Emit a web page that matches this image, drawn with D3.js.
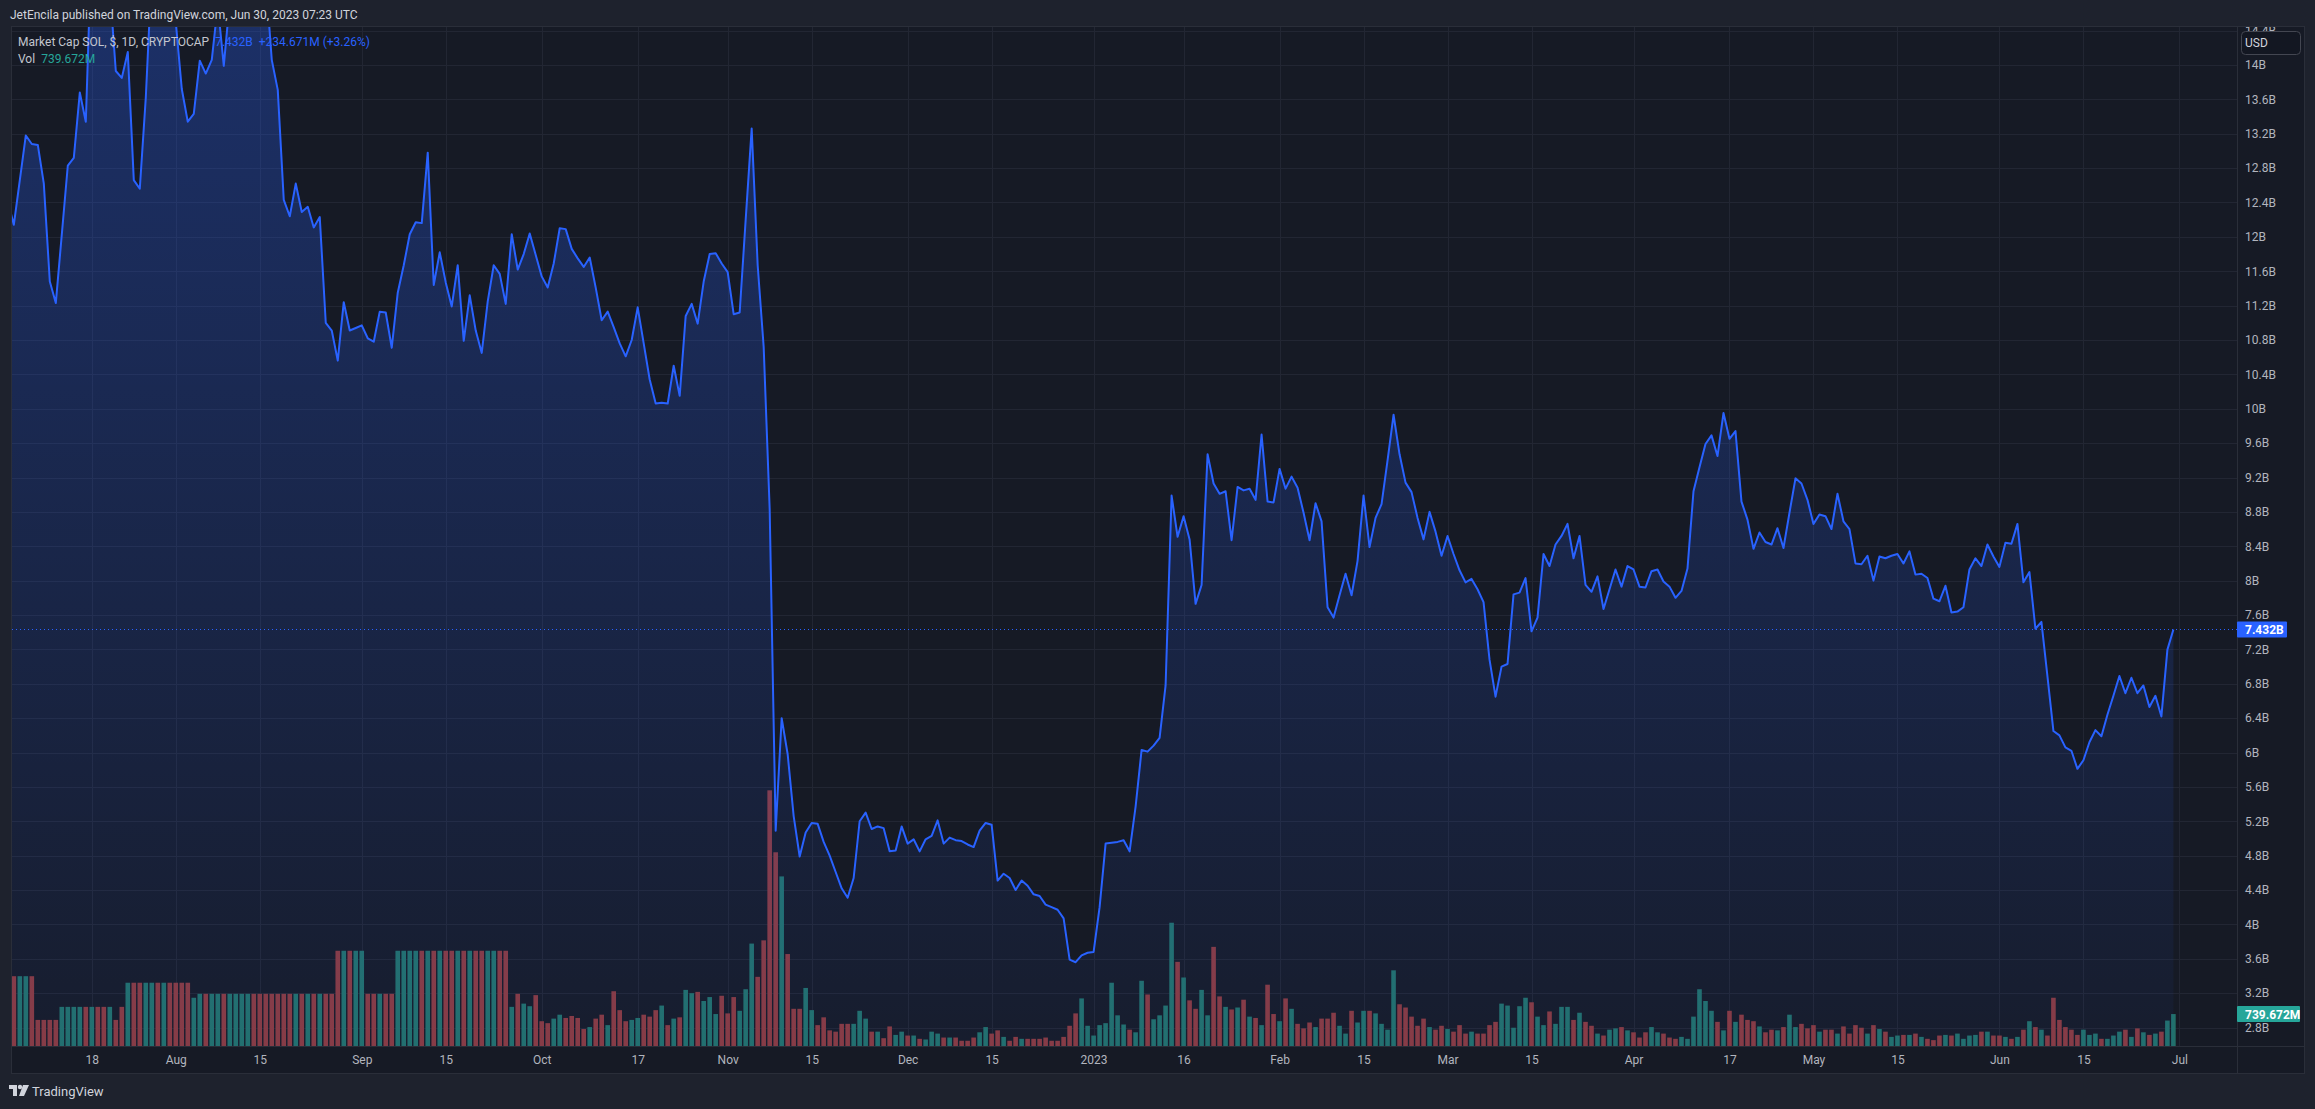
<!DOCTYPE html>
<html>
<head>
<meta charset="utf-8">
<script src="https://cdn.jsdelivr.net/npm/d3@7"></script>
<style>
    html, body { margin: 0; padding: 0; background: #1e222d; }
    svg { display: block; font-family: Roboto, 'Noto Sans', sans-serif; }
</style>
</head>
<body>
<div id="chart"></div>
<script>
// daily series, first value is 2022-07-04
const firstDay = '2022-07-04';

// market cap in billions USD
const marketCap = [
    // Jul 4 - Jul 31
    12.41, 12.14, 12.66, 13.18, 13.08, 13.07, 12.62, 11.48, 11.23, 12.03, 12.83, 12.92, 13.68, 13.34,
    15.5, 15.3, 14.8, 14.9, 13.93, 13.85, 14.15, 12.66, 12.56, 13.62, 15.1, 15.0, 15.4, 15.0,
    // Aug
    14.5, 13.72, 13.34, 13.43, 14.05, 13.9, 14.06, 14.7, 13.99, 14.75, 15.2, 15.5, 16.0, 15.7, 15.3, 15.0,
    14.06, 13.71, 12.43, 12.24, 12.62, 12.29, 12.35, 12.11, 12.23, 11.0, 10.91, 10.56, 11.24, 10.91, 10.94,
    // Sep
    10.97, 10.82, 10.78, 11.13, 11.12, 10.71, 11.35, 11.67, 12.03, 12.17, 12.16, 12.98, 11.44, 11.82, 11.47,
    11.19, 11.67, 10.79, 11.32, 10.91, 10.65, 11.25, 11.67, 11.57, 11.22, 12.03, 11.62, 11.8, 12.04, 11.79,
    // Oct
    11.54, 11.41, 11.69, 12.1, 12.09, 11.86, 11.75, 11.65, 11.76, 11.41, 11.03, 11.13, 10.95, 10.76, 10.61, 10.8,
    11.18, 10.76, 10.34, 10.06, 10.07, 10.06, 10.5, 10.15, 11.08, 11.22, 10.99, 11.48, 11.8, 11.81, 11.69,
    // Nov
    11.59, 11.1, 11.12, 12.2, 13.26, 11.67, 10.72, 8.83, 5.09, 6.4, 5.98, 5.26, 4.79, 5.07, 5.18,
    5.17, 4.96, 4.8, 4.61, 4.42, 4.31, 4.54, 5.2, 5.3, 5.11, 5.14, 5.12, 4.85, 4.86, 5.14,
    // Dec
    4.94, 4.99, 4.85, 4.99, 5.03, 5.21, 4.94, 5.01, 4.98, 4.97, 4.93, 4.9, 5.09, 5.18, 5.16, 4.51,
    4.59, 4.54, 4.4, 4.51, 4.45, 4.35, 4.33, 4.23, 4.2, 4.17, 4.07, 3.59, 3.56, 3.64, 3.67,
    // Jan 2023
    3.68, 4.2, 4.94, 4.95, 4.96, 4.98, 4.85, 5.37, 6.03, 6.01, 6.08, 6.17, 6.78, 8.99, 8.51, 8.75,
    8.48, 7.73, 7.95, 9.47, 9.13, 9.01, 9.04, 8.47, 9.09, 9.05, 9.07, 8.94, 9.7, 8.92, 8.91,
    // Feb
    9.3, 9.07, 9.21, 9.08, 8.79, 8.47, 8.9, 8.69, 7.69, 7.57, 7.83, 8.08, 7.83, 8.23,
    8.99, 8.39, 8.73, 8.89, 9.4, 9.93, 9.47, 9.14, 9.03, 8.73, 8.48, 8.8, 8.57, 8.29,
    // Mar
    8.52, 8.31, 8.12, 7.98, 8.02, 7.9, 7.75, 7.08, 6.65, 7.0, 7.03, 7.84, 7.86, 8.03, 7.41, 7.57,
    8.31, 8.17, 8.42, 8.52, 8.66, 8.26, 8.52, 7.95, 7.87, 8.05, 7.67, 7.9, 8.13, 7.93, 8.17,
    // Apr
    8.13, 7.93, 7.92, 8.11, 8.13, 7.99, 7.93, 7.8, 7.88, 8.14, 9.04, 9.32, 9.59, 9.69, 9.45,
    9.95, 9.65, 9.74, 8.92, 8.71, 8.37, 8.56, 8.45, 8.42, 8.61, 8.38, 8.79, 9.19, 9.13, 8.94,
    // May
    8.66, 8.77, 8.75, 8.6, 9.01, 8.69, 8.6, 8.2, 8.19, 8.29, 8.0, 8.28, 8.26, 8.29, 8.31, 8.2,
    8.34, 8.07, 8.08, 8.03, 7.79, 7.76, 7.94, 7.63, 7.64, 7.69, 8.13, 8.26, 8.17, 8.42, 8.28,
    // Jun
    8.16, 8.44, 8.43, 8.66, 7.98, 8.1, 7.44, 7.52, 6.89, 6.25, 6.2, 6.06, 6.02, 5.81, 5.91,
    6.12, 6.26, 6.19, 6.44, 6.66, 6.89, 6.69, 6.87, 6.69, 6.78, 6.53, 6.66, 6.42, 7.197, 7.432
];

// volume in millions USD
const volume = [
    // Jul 4 - Jul 31
    1616, 1616, 1616, 1616, 1616, 604, 604, 604, 604, 906, 906, 906, 906, 906,
    906, 906, 906, 906, 604, 906, 1465, 1465, 1465, 1465, 1465, 1465, 1465, 1465,
    // Aug
    1465, 1465, 1465, 1117, 1208, 1208, 1208, 1208, 1208, 1208, 1208, 1208, 1208, 1208, 1208, 1208,
    1208, 1208, 1208, 1208, 1208, 1208, 1208, 1208, 1208, 1208, 1208, 2205, 2205, 2205, 2205,
    // Sep
    2205, 1208, 1208, 1208, 1208, 1208, 2205, 2205, 2205, 2205, 2205, 2205, 2205, 2205, 2205,
    2205, 2205, 2205, 2205, 2205, 2205, 2205, 2205, 2205, 2205, 906, 1208, 981, 921, 1178,
    // Oct
    574, 529, 634, 725, 649, 695, 649, 393, 438, 634, 725, 483, 1268, 830, 574, 604,
    649, 725, 680, 830, 936, 483, 634, 664, 1299, 1223, 1253, 1042, 1133, 740, 1163,
    // Nov
    755, 1133, 815, 1314, 2371, 1601, 2446, 5919, 4485, 3926, 2129, 861, 861, 1344, 831,
    483, 664, 362, 332, 513, 513, 513, 815, 634, 332, 332, 181, 453, 257, 332,
    // Dec
    242, 242, 166, 151, 332, 287, 196, 196, 196, 121, 121, 196, 317, 438, 287, 362,
    211, 121, 211, 166, 166, 166, 166, 196, 121, 121, 211, 468, 755, 1102, 468,
    // Jan 2023
    242, 483, 529, 1465, 710, 498, 378, 317, 1510, 1193, 619, 710, 936, 2854, 1948, 1586,
    1057, 861, 1299, 710, 2295, 1148, 906, 846, 891, 1072, 680, 649, 483, 1419, 740,
    // Feb
    574, 1102, 861, 513, 408, 544, 438, 634, 634, 770, 468, 287, 815, 544,
    815, 815, 755, 513, 378, 1752, 966, 891, 680, 468, 634, 438, 378, 468,
    // Mar
    393, 332, 483, 287, 332, 287, 287, 483, 559, 981, 936, 423, 921, 1117, 1012, 680,
    483, 800, 513, 906, 906, 604, 770, 559, 468, 287, 242, 378, 408, 438, 362,
    // Apr
    317, 196, 317, 438, 317, 287, 196, 166, 211, 166, 680, 1314, 1042, 815, 559,
    362, 815, 559, 725, 604, 574, 453, 317, 378, 362, 438, 725, 438, 513, 408,
    // May
    483, 332, 378, 378, 287, 453, 287, 483, 423, 287, 483, 393, 332, 211, 242, 257,
    257, 287, 211, 166, 136, 242, 257, 242, 287, 166, 242, 257, 332, 332, 242,
    // Jun
    242, 211, 166, 211, 378, 574, 438, 378, 242, 1117, 604, 438, 378, 257, 378,
    257, 287, 166, 166, 242, 332, 378, 211, 408, 317, 257, 287, 332, 589, 739.672
];

const timeTicks = [
    '2022-07-18', '2022-08-01', '2022-08-15', '2022-09-01', '2022-09-15', '2022-10-01', '2022-10-17',
    '2022-11-01', '2022-11-15', '2022-12-01', '2022-12-15', '2023-01-01', '2023-01-16', '2023-02-01',
    '2023-02-15', '2023-03-01', '2023-03-15', '2023-04-01', '2023-04-17', '2023-05-01', '2023-05-15',
    '2023-06-01', '2023-06-15', '2023-07-01'
];
const timeTickLabels = [
    '18', 'Aug', '15', 'Sep', '15', 'Oct', '17', 'Nov', '15', 'Dec', '15', '2023',
    '16', 'Feb', '15', 'Mar', '15', 'Apr', '17', 'May', '15', 'Jun', '15', 'Jul'
];
const priceTicks = [
    2.8, 3.2, 3.6, 4, 4.4, 4.8, 5.2, 5.6, 6, 6.4, 6.8, 7.2, 7.6, 8, 8.4,
    8.8, 9.2, 9.6, 10, 10.4, 10.8, 11.2, 11.6, 12, 12.4, 12.8, 13.2, 13.6, 14, 14.4
];

const headerText = 'JetEncila published on TradingView.com, Jun 30, 2023 07:23 UTC';
const seriesTitle = 'Market Cap SOL, $, 1D, CRYPTOCAP';
const lastPriceText = '7.432B';
const lastChangeText = '+234.671M (+3.26%)';
const lastVolumeText = '739.672M';

// layout
const width = 2315;
const height = 1109;
const plot = { left: 12, right: 2237, top: 27, bottom: 1046 };
const panelRight = 2304;
const axisBottom = 1073;

const colors = {
    page: '#1e222d',
    panel: '#161a25',
    grid: '#222633',
    border: '#2a2e39',
    text: '#b2b5be',
    line: '#2962ff',
    up: '#22706a',
    down: '#8a3a3f',
    teal: '#26a69a',
};

const parseDay = d3.utcParse('%Y-%m-%d');
const start = parseDay(firstDay);
const rows = marketCap.map((v, i) => ({
    date: d3.utcDay.offset(start, i),
    cap: v,
    vol: volume[i],
    up: i === 0 ? false : v >= marketCap[i - 1],
}));

const svg = d3.select('#chart').append('svg').attr('width', width).attr('height', height);

svg.append('rect').attr('width', width).attr('height', height).attr('fill', colors.page);
svg.append('rect')
    .attr('x', plot.left - 0.5)
    .attr('y', plot.top - 0.5)
    .attr('width', panelRight - plot.left + 1)
    .attr('height', axisBottom - plot.top + 1)
    .attr('fill', colors.panel)
    .attr('stroke', colors.border);

const defs = svg.append('defs');
defs.append('clipPath').attr('id', 'plot-clip')
    .append('rect')
    .attr('x', plot.left).attr('y', plot.top)
    .attr('width', plot.right - plot.left).attr('height', plot.bottom - plot.top);
defs.append('clipPath').attr('id', 'axis-clip')
    .append('rect')
    .attr('x', plot.right).attr('y', plot.top)
    .attr('width', panelRight - plot.right).attr('height', plot.bottom - plot.top);
const grad = defs.append('linearGradient')
    .attr('id', 'area-fill')
    .attr('gradientUnits', 'userSpaceOnUse')
    .attr('x1', 0).attr('x2', 0)
    .attr('y1', plot.top).attr('y2', plot.bottom);
grad.append('stop').attr('offset', 0).attr('stop-color', '#2962ff').attr('stop-opacity', 0.3);
grad.append('stop').attr('offset', 1).attr('stop-color', '#2962ff').attr('stop-opacity', 0.04);

// scales: 6px per day, 86px per billion
const x = d3.scaleUtc()
    .domain([parseDay('2022-07-18'), parseDay('2023-07-01')])
    .range([91.8, 2179.4]);
const y = d3.scaleLinear().domain([2.585, 14.442]).range([plot.bottom, plot.top]);
const yVol = d3.scaleLinear().domain([0, 23590]).range([plot.bottom, plot.top]);

// grid
const grid = svg.append('g').attr('stroke', colors.grid).attr('shape-rendering', 'crispEdges');
grid.selectAll('.hgrid')
    .data(priceTicks)
    .enter()
    .append('line')
    .attr('x1', plot.left).attr('x2', plot.right)
    .attr('y1', (d) => Math.round(y(d)) + 0.5).attr('y2', (d) => Math.round(y(d)) + 0.5);
grid.selectAll('.vgrid')
    .data(timeTicks)
    .enter()
    .append('line')
    .attr('x1', (d) => Math.round(x(parseDay(d))) + 0.5).attr('x2', (d) => Math.round(x(parseDay(d))) + 0.5)
    .attr('y1', plot.top).attr('y2', plot.bottom);

const plotArea = svg.append('g').attr('clip-path', 'url(#plot-clip)');

// volume bars
plotArea.append('g')
    .selectAll('rect')
    .data(rows)
    .enter()
    .append('rect')
    .attr('x', (d) => x(d.date) - 2.3)
    .attr('width', 4.6)
    .attr('y', (d) => yVol(d.vol))
    .attr('height', (d) => plot.bottom - yVol(d.vol))
    .attr('fill', (d) => (d.up ? colors.up : colors.down));

// area + line
const area = d3.area().x((d) => x(d.date)).y0(plot.bottom).y1((d) => y(d.cap));
const line = d3.line().x((d) => x(d.date)).y((d) => y(d.cap));
plotArea.append('path').datum(rows).attr('d', area).attr('fill', 'url(#area-fill)');
plotArea.append('path')
    .datum(rows)
    .attr('d', line)
    .attr('fill', 'none')
    .attr('stroke', colors.line)
    .attr('stroke-width', 2)
    .attr('stroke-linejoin', 'round');

// last price dotted line
const lastY = Math.round(y(marketCap[marketCap.length - 1])) + 0.5;
svg.append('line')
    .attr('x1', plot.left).attr('x2', plot.right)
    .attr('y1', lastY).attr('y2', lastY)
    .attr('stroke', colors.line)
    .attr('stroke-dasharray', '1,3');

// right price axis (clip in page coords, axis translated inside)
const yAxis = svg.append('g')
    .attr('clip-path', 'url(#axis-clip)')
    .append('g')
    .attr('transform', `translate(${plot.right},0)`)
    .call(d3.axisRight(y).tickValues(priceTicks).tickSize(0).tickPadding(8).tickFormat((d) => d + 'B'));
yAxis.select('.domain').remove();
yAxis.selectAll('text').attr('fill', colors.text).attr('font-size', 12).attr('font-family', 'Roboto, sans-serif');

// bottom time axis
const xAxis = svg.append('g')
    .attr('transform', `translate(0,${plot.bottom})`)
    .call(d3.axisBottom(x)
        .tickValues(timeTicks.map(parseDay))
        .tickSize(0)
        .tickPadding(9)
        .tickFormat((d, i) => timeTickLabels[i]));
xAxis.select('.domain').remove();
xAxis.selectAll('text').attr('fill', colors.text).attr('font-size', 12).attr('font-family', 'Roboto, sans-serif');

// separators
svg.append('line')
    .attr('x1', plot.right + 0.5).attr('x2', plot.right + 0.5)
    .attr('y1', plot.top).attr('y2', axisBottom)
    .attr('stroke', colors.border);
svg.append('line')
    .attr('x1', plot.left).attr('x2', panelRight)
    .attr('y1', plot.bottom + 0.5).attr('y2', plot.bottom + 0.5)
    .attr('stroke', colors.border);

// USD box
svg.append('rect')
    .attr('x', 2241.5).attr('y', 31.5).attr('width', 59).attr('height', 23).attr('rx', 4)
    .attr('fill', '#131722').attr('stroke', '#434651');
svg.append('text').text('USD')
    .attr('x', 2245).attr('y', 47).attr('fill', '#d1d4dc').attr('font-size', 12);

// last value labels on the axis
svg.append('rect')
    .attr('x', plot.right).attr('y', y(7.432) - 8).attr('width', 50).attr('height', 16).attr('rx', 1)
    .attr('fill', colors.line);
svg.append('text').text(lastPriceText)
    .attr('x', 2245).attr('y', y(7.432) + 4.5)
    .attr('fill', '#ffffff').attr('font-size', 12).attr('font-weight', 'bold');
const volLabelY = yVol(volume[volume.length - 1]);
svg.append('rect')
    .attr('x', plot.right).attr('y', volLabelY - 8).attr('width', 63).attr('height', 16).attr('rx', 1)
    .attr('fill', colors.teal);
svg.append('text').text(lastVolumeText)
    .attr('x', 2245).attr('y', volLabelY + 4.5)
    .attr('fill', '#ffffff').attr('font-size', 12).attr('font-weight', 'bold');

// header
svg.append('text').text(headerText)
    .attr('x', 10).attr('y', 19).attr('fill', '#d1d4dc').attr('font-size', 12);

// legend
const legend1 = svg.append('text').attr('x', 18).attr('y', 46).attr('font-size', 12);
legend1.append('tspan').text(seriesTitle).attr('fill', '#c3c6ce');
legend1.append('tspan').text(lastPriceText).attr('dx', 6).attr('fill', colors.line);
legend1.append('tspan').text(lastChangeText).attr('dx', 6).attr('fill', colors.line);
const legend2 = svg.append('text').attr('x', 18).attr('y', 63).attr('font-size', 12);
legend2.append('tspan').text('Vol').attr('fill', '#c3c6ce');
legend2.append('tspan').text(lastVolumeText).attr('dx', 6).attr('fill', colors.teal);

// footer logo
const logo = svg.append('g').attr('transform', 'translate(9,1084)').attr('fill', '#d1d4dc');
logo.append('rect').attr('x', 0).attr('y', 1).attr('width', 8).attr('height', 4);
logo.append('rect').attr('x', 4).attr('y', 1).attr('width', 4).attr('height', 11);
logo.append('circle').attr('cx', 11).attr('cy', 3).attr('r', 2.2);
logo.append('path').attr('d', 'M14,1 L20,1 L15,12 L10,12 Z');
svg.append('text').text('TradingView')
    .attr('x', 32).attr('y', 1096).attr('fill', '#d1d4dc').attr('font-size', 13);
</script>
</body>
</html>
